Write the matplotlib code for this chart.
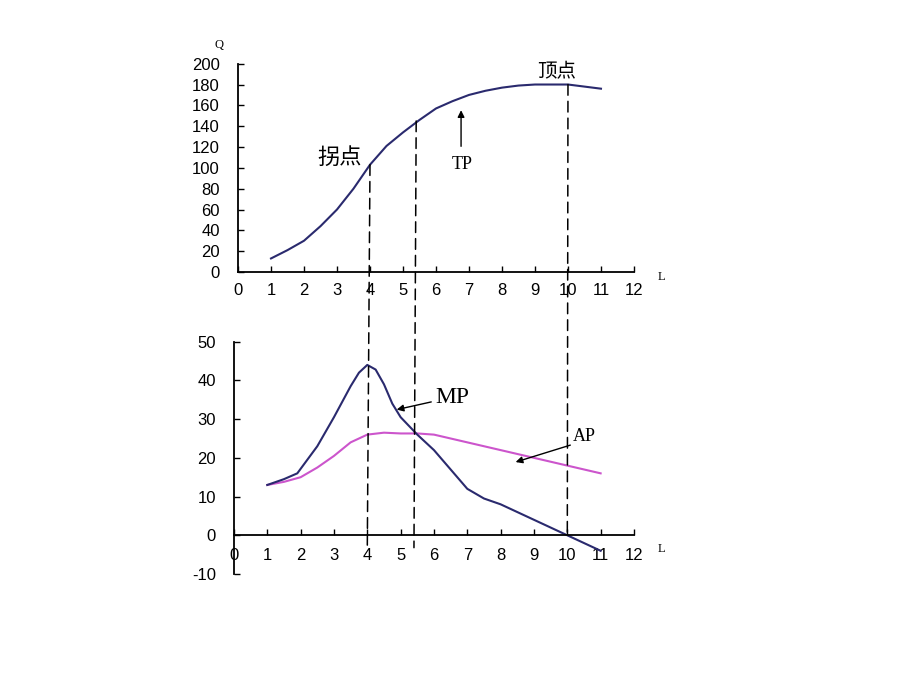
import matplotlib
matplotlib.use("Agg")
import matplotlib.pyplot as plt
from matplotlib.patches import ConnectionPatch

plt.rcParams['font.family'] = ['Liberation Sans', 'Noto Sans CJK SC', 'DejaVu Sans']
plt.rcParams['axes.unicode_minus'] = False

# Data
L = [1, 1.5, 2, 2.5, 3, 3.5, 4, 4.5, 5, 5.5, 6, 6.5, 7, 7.5, 8, 8.5, 9, 9.5, 10, 10.5, 11]
TP = [13, 21, 30, 44, 60, 80, 103, 121, 134, 146, 157, 164, 170, 174, 177, 179, 180, 180, 180, 178, 176]
L_mp = [1, 1.5, 1.9, 2.5, 3, 3.5, 3.75, 4, 4.25, 4.5, 4.75, 5, 5.5, 6, 6.5, 7, 7.5, 8, 8.5, 9, 9.5, 10, 10.5, 11]
MP = [13, 14.5, 16, 23, 30.5, 38.5, 42, 44, 42.8, 39, 34, 30.5, 26, 22, 17, 12, 9.5, 8, 6, 4, 2, 0, -2, -4]
AP = [13, 13.8, 15, 17.5, 20.5, 24, 26, 26.5, 26.3, 26.3, 26, 25, 24, 23, 22, 21, 20, 19, 18, 17, 16]
x_ticks = list(range(0, 13))
top_yticks = list(range(0, 201, 20))
bot_yticks = list(range(-10, 51, 10))
# dashed guide lines: (L, TP value, bottom end value)
guides = [(4, 103, -3.2), (5.4, 145, -3.2), (10, 180, 0)]

fig = plt.figure(figsize=(9.2, 6.9), dpi=100)
ax1 = fig.add_axes([0.2587, 0.6058, 0.4304, 0.3019])
ax2 = fig.add_axes([0.2543, 0.1681, 0.4348, 0.3367])

navy = '#2a2a6e'
magenta = '#cc55cc'

for ax in (ax1, ax2):
    ax.spines['top'].set_visible(False)
    ax.spines['right'].set_visible(False)
    ax.spines['left'].set_linewidth(1.3)
    ax.spines['bottom'].set_linewidth(1.3)
    ax.set_xlim(0, 12)
    ax.set_xticks(x_ticks)
    ax.tick_params(direction='in', length=4, width=1, labelsize=12)
    ax.tick_params(axis='y', pad=13)
    ax.patch.set_alpha(0)

ax1.set_ylim(0, 200)
ax1.set_yticks(top_yticks)
ax1.plot(L, TP, color=navy, lw=1.5)
ax1.tick_params(axis='x', pad=8)

ax2.set_ylim(-10, 50)
ax2.set_yticks(bot_yticks)
ax2.spines['bottom'].set_position(('data', 0))
ax2.plot(L, AP, color=magenta, lw=1.5)
ax2.plot(L_mp, MP, color=navy, lw=1.5)
ax2.tick_params(axis='x', pad=9)

# axis letters
fig.text(219 / 920, 1 - 45 / 690, 'Q', family='Liberation Serif', fontsize=9, ha='center', va='center')
fig.text(661 / 920, 1 - 277 / 690, 'L', family='Liberation Serif', fontsize=9, ha='center', va='center')
fig.text(661 / 920, 1 - 549 / 690, 'L', family='Liberation Serif', fontsize=9, ha='center', va='center')

# dashed guide lines spanning both axes
for gx, gtop, gbot in guides:
    con = ConnectionPatch(xyA=(gx, gtop), coordsA=ax1.transData,
                          xyB=(gx, gbot), coordsB=ax2.transData,
                          linestyle=(0, (7, 4)), color='black', lw=1.1)
    fig.add_artist(con)

# annotations
cjk = ['Noto Sans CJK SC', 'DejaVu Sans']
ax1.text(3.09, 110, '拐点', family=cjk, fontsize=16, ha='center', va='center')
ax1.text(9.67, 192, '顶点', family=cjk, fontsize=14, ha='center', va='center')
ax1.text(6.8, 103, 'TP', family='Liberation Serif', fontsize=13, ha='center', va='center')
ax1.annotate('', xy=(6.76, 158), xytext=(6.76, 118),
             arrowprops=dict(arrowstyle='-|>', color='black', lw=1, mutation_scale=10))

ax2.text(6.55, 35.6, 'MP', family='Liberation Serif', fontsize=17, ha='center', va='center')
ax2.annotate('', xy=(4.8, 32.3), xytext=(6.0, 34.6),
             arrowprops=dict(arrowstyle='-|>', color='black', lw=1, mutation_scale=10))
ax2.text(10.5, 25.6, 'AP', family='Liberation Serif', fontsize=13, ha='center', va='center')
ax2.annotate('', xy=(8.37, 18.7), xytext=(10.17, 23.5),
             arrowprops=dict(arrowstyle='-|>', color='black', lw=1, mutation_scale=10))

fig.savefig('out.png', dpi=100)
